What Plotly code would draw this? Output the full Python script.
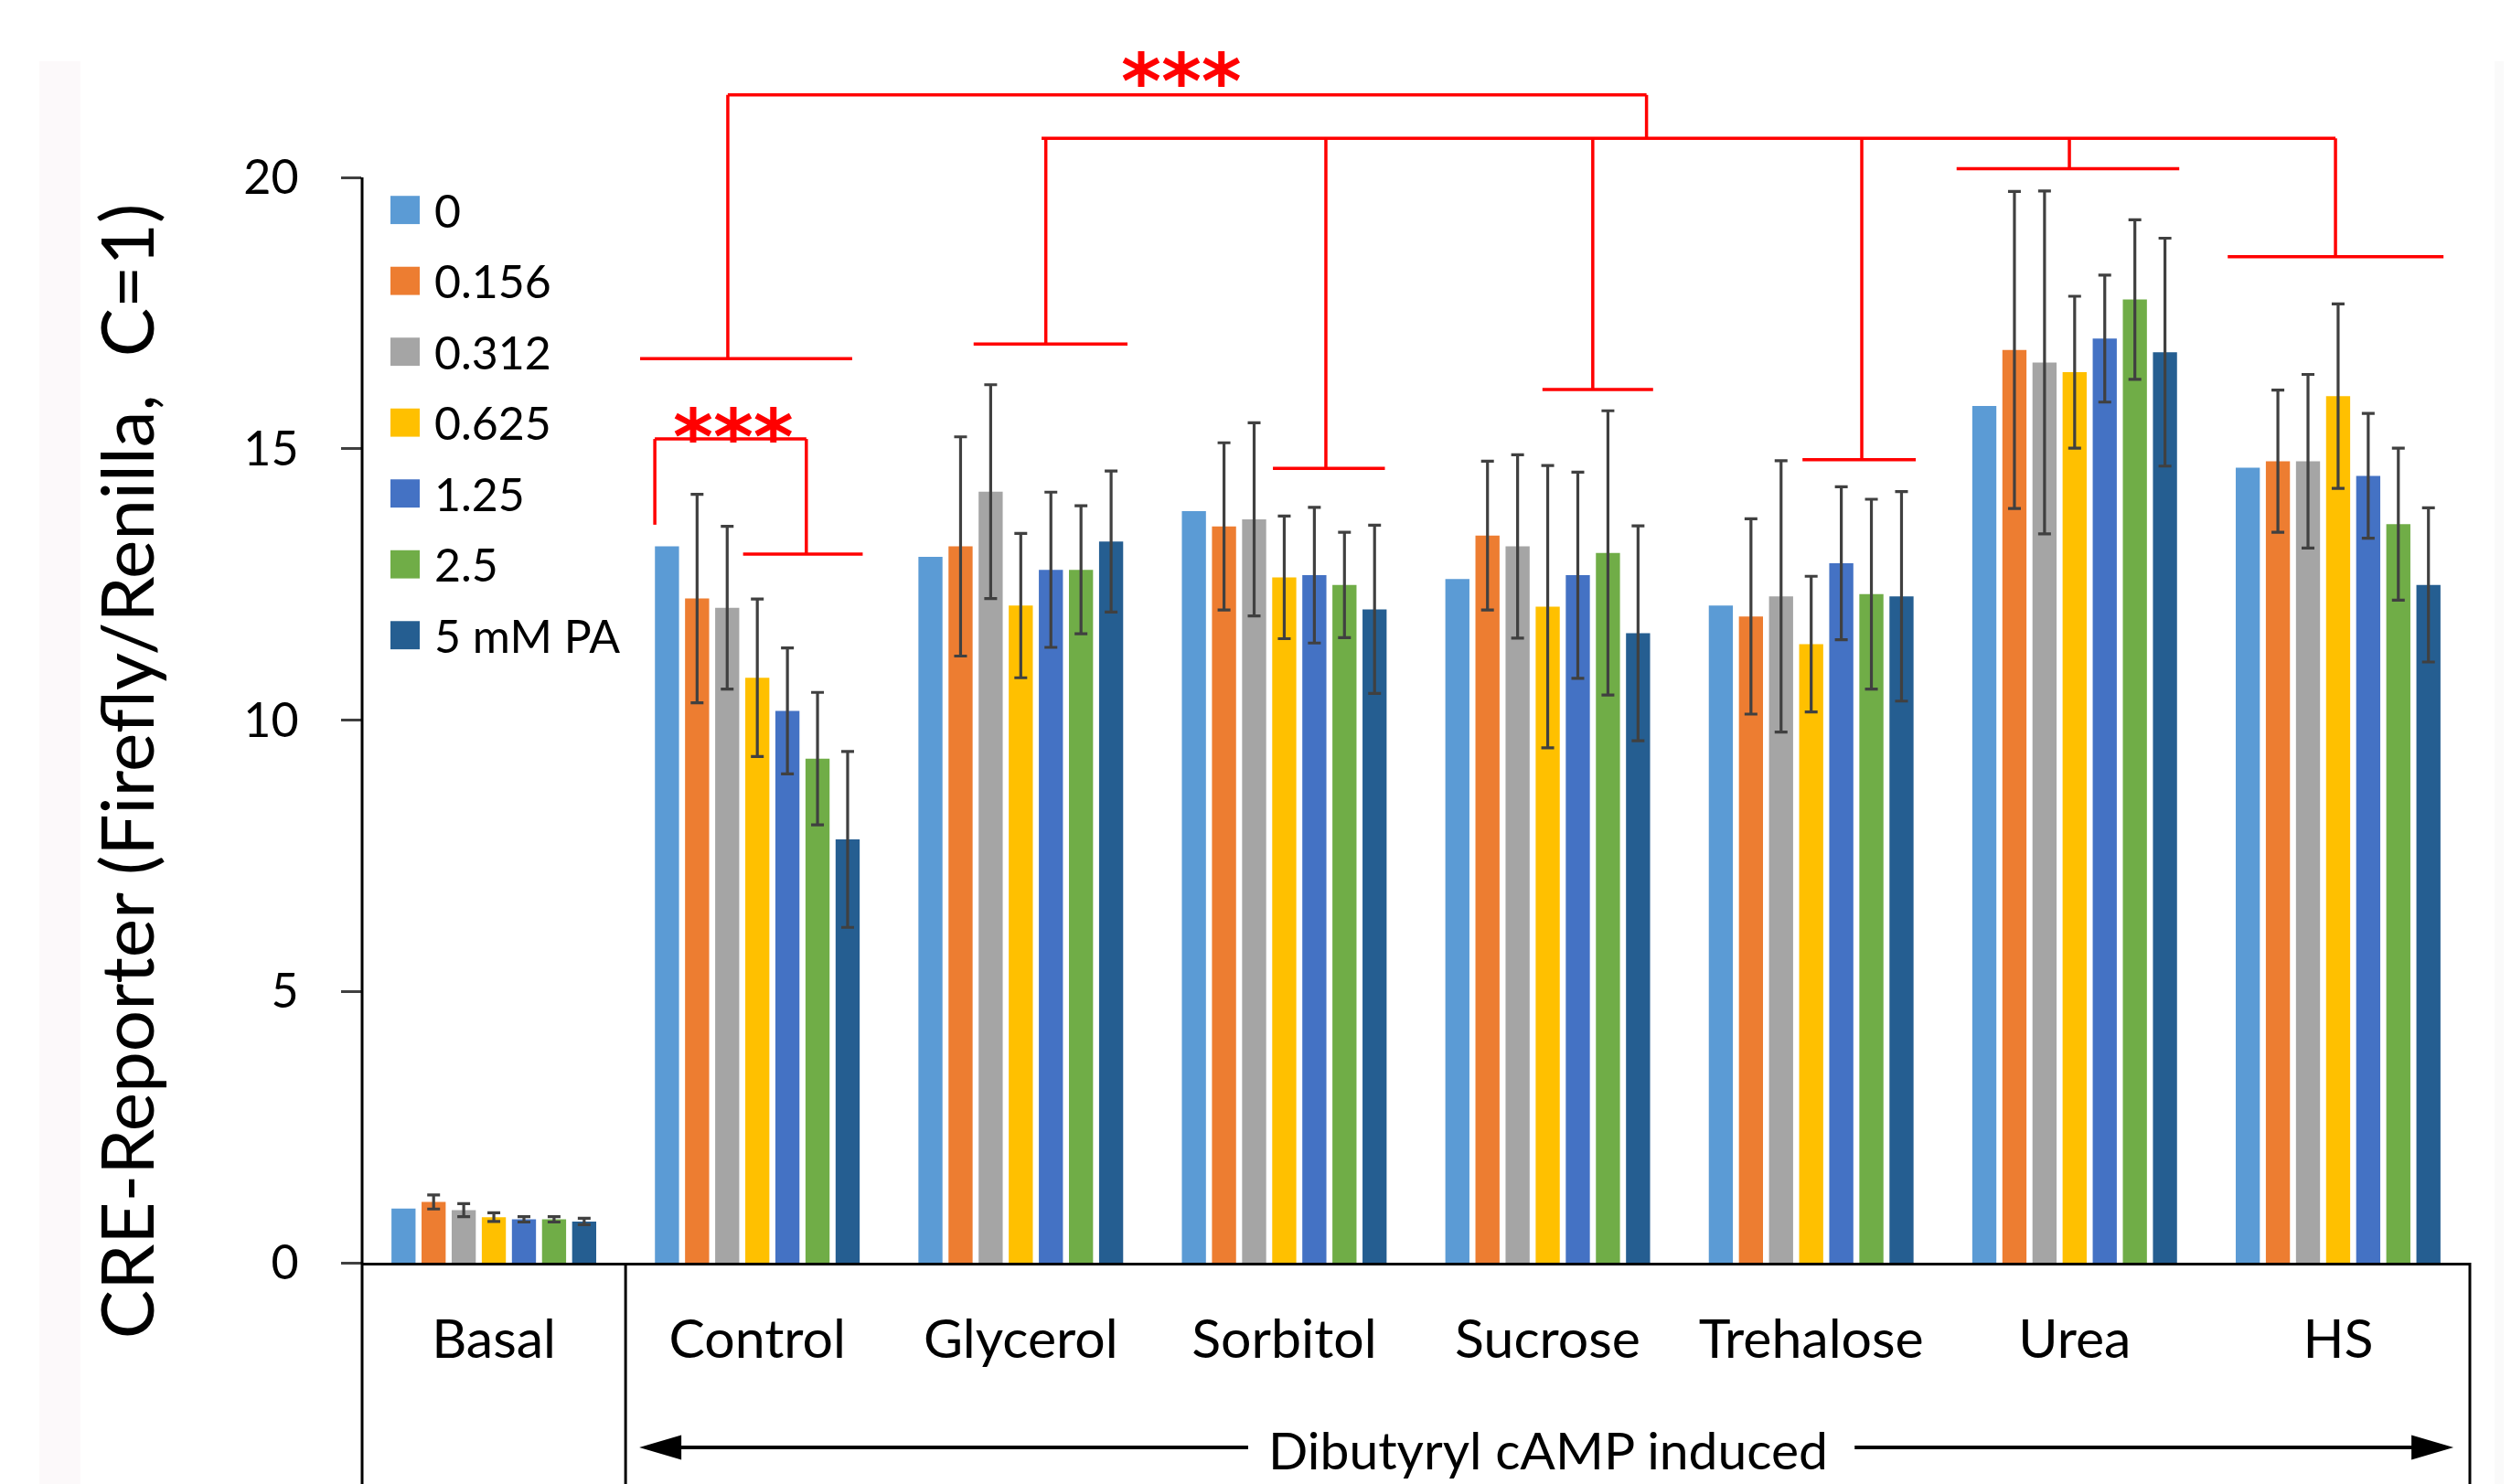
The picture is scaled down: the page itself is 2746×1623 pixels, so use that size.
import plotly.graph_objects as go

# ---------------- data ----------------
groups = ["Basal", "Control", "Glycerol", "Sorbitol", "Sucrose", "Trehalose", "Urea", "HS"]
series_names = ["0", "0.156", "0.312", "0.625", "1.25", "2.5", "5 mM PA"]
colors = ["#5B9BD5", "#ED7D31", "#A5A5A5", "#FFC000", "#4472C4", "#70AD47", "#255E91"]

v_0 = [1.00, 13.20, 13.01, 13.85, 12.60, 12.11, 15.79, 14.65]
v_0156 = [1.12, 12.24, 13.20, 13.57, 13.40, 11.91, 16.82, 14.77]
v_0312 = [0.97, 12.07, 14.21, 13.70, 13.20, 12.28, 16.59, 14.77]
v_0625 = [0.84, 10.78, 12.11, 12.63, 12.09, 11.40, 16.41, 15.97]
v_125 = [0.80, 10.17, 12.77, 12.67, 12.67, 12.89, 17.03, 14.50]
v_25 = [0.80, 9.29, 12.77, 12.49, 13.08, 12.32, 17.75, 13.61]
v_5 = [0.76, 7.80, 13.29, 12.04, 11.60, 12.28, 16.78, 12.49]

e_0156 = [0.13, 1.92, 2.02, 1.54, 1.37, 1.80, 2.92, 1.31]
e_0312 = [0.12, 1.50, 1.97, 1.78, 1.69, 2.50, 3.16, 1.60]
e_0625 = [0.08, 1.45, 1.33, 1.13, 2.60, 1.25, 1.40, 1.70]
e_125 = [0.05, 1.16, 1.43, 1.25, 1.90, 1.41, 1.17, 1.15]
e_25 = [0.05, 1.22, 1.18, 0.97, 2.62, 1.75, 1.47, 1.40]
e_5 = [0.06, 1.62, 1.30, 1.55, 1.98, 1.93, 2.10, 1.42]

y_ticks = [0, 5, 10, 15, 20]
y_title = "CRE-Reporter (Firefly/Renilla,\u00a0\u00a0C=1)"
induced_label = "Dibutyryl cAMP induced"
sig_label = "***"

values = [v_0, v_0156, v_0312, v_0625, v_125, v_25, v_5]
errors = [None, e_0156, e_0312, e_0625, e_125, e_25, e_5]

# significance brackets (x in category index units, y in data units)
brackets = [
    # Control: 0 vs higher doses
    (0.611, 13.60, 0.611, 15.18), (0.611, 15.18, 1.186, 15.18),
    (1.186, 15.18, 1.186, 13.06), (0.946, 13.06, 1.400, 13.06),
    # Control vs osmolytes
    (0.555, 16.66, 1.360, 16.66), (0.888, 16.66, 0.888, 21.52),
    (0.888, 21.52, 4.375, 21.52), (4.375, 21.52, 4.375, 20.72),
    (2.079, 20.72, 6.990, 20.72),
    (2.095, 20.72, 2.095, 16.93), (1.821, 16.93, 2.405, 16.93),
    (3.158, 20.72, 3.158, 14.64), (2.957, 14.64, 3.382, 14.64),
    (4.171, 20.72, 4.171, 16.09), (3.980, 16.09, 4.400, 16.09),
    (5.192, 20.72, 5.192, 14.80), (4.967, 14.80, 5.397, 14.80),
    (5.980, 20.72, 5.980, 20.16), (5.552, 20.16, 6.397, 20.16),
    (6.990, 20.72, 6.990, 18.54), (6.581, 18.54, 7.400, 18.54),
]
stars = [(0.908, 15.52), (2.610, 22.07)]

# ---------------- layout constants ----------------
W, H = 2746, 1623
OFF = 8                       # default body margin of the html page
AX_LEFT, PLOT_RIGHT = 396, 2701
Y0_PX, PX_PER_UNIT = 1381, 59.35
Y_TOP = 23.0
FONT = "Lato"
N = len(groups)

plot_w = PLOT_RIGHT - AX_LEFT
plot_h = Y_TOP * PX_PER_UNIT
top_px = Y0_PX - plot_h
MB = H - Y0_PX


def cat2paper(c):
    return (c + 0.5) / N


def px2px(px):
    return (px - AX_LEFT) / plot_w


def py2py(py):
    return (Y0_PX - py) / plot_h


y_bottom = py2py(H + 10)

fig = go.Figure()
for name, vals, err, col in zip(series_names, values, errors, colors):
    fig.add_trace(go.Bar(
        x=groups, y=vals, name=name,
        marker=dict(color=col, line=dict(width=0)),
        error_y=dict(type="data", array=err if err else [0] * N, visible=err is not None,
                     color="#404040", thickness=3.2, width=7),
        showlegend=False,
    ))

shapes = []
# y axis line (0..20) and table verticals
shapes.append(dict(type="line", xref="paper", yref="paper", x0=0, x1=0,
                   y0=y_bottom, y1=y_ticks[-1] / Y_TOP, line=dict(color="black", width=3)))
shapes.append(dict(type="line", xref="paper", yref="paper", x0=cat2paper(0.5), x1=cat2paper(0.5),
                   y0=y_bottom, y1=0, line=dict(color="black", width=3)))
shapes.append(dict(type="line", xref="paper", yref="paper", x0=1, x1=1,
                   y0=y_bottom, y1=0, line=dict(color="black", width=3)))

# arrows for "Dibutyryl cAMP induced"
ay = py2py(1583)
head_dx = 46 / plot_w
head_dy = 13.5 / plot_h
lt, rt = cat2paper(0.552), cat2paper(7.438)
shapes.append(dict(type="line", xref="paper", yref="paper", x0=lt + head_dx * 0.8, x1=cat2paper(2.863),
                   y0=ay, y1=ay, line=dict(color="black", width=4)))
shapes.append(dict(type="line", xref="paper", yref="paper", x0=cat2paper(5.165), x1=rt - head_dx * 0.8,
                   y0=ay, y1=ay, line=dict(color="black", width=4)))
shapes.append(dict(type="path", xref="paper", yref="paper",
                   path=f"M{lt},{ay} L{lt + head_dx},{ay + head_dy} L{lt + head_dx},{ay - head_dy} Z",
                   fillcolor="black", line=dict(width=0)))
shapes.append(dict(type="path", xref="paper", yref="paper",
                   path=f"M{rt},{ay} L{rt - head_dx},{ay + head_dy} L{rt - head_dx},{ay - head_dy} Z",
                   fillcolor="black", line=dict(width=0)))

# faint page strips
shapes.append(dict(type="rect", xref="paper", yref="paper", x0=px2px(43), x1=px2px(88),
                   y0=y_bottom, y1=py2py(67), fillcolor="#FCF9FA", line=dict(width=0), layer="below"))
shapes.append(dict(type="rect", xref="paper", yref="paper", x0=px2px(2728), x1=px2px(W + 10),
                   y0=y_bottom, y1=py2py(67), fillcolor="#FAFAFA", line=dict(width=0), layer="below"))

# brackets
for x0, y0, x1, y1 in brackets:
    shapes.append(dict(type="line", xref="x", yref="y", x0=x0, y0=y0, x1=x1, y1=y1,
                       line=dict(color="#FF0000", width=3.5)))

annotations = []
# legend (manual, large swatches)
leg_top, leg_step, leg_half = 19.40, 1.306, 0.26
for i, (name, col) in enumerate(zip(series_names, colors)):
    yc = leg_top - i * leg_step
    shapes.append(dict(type="rect", xref="paper", yref="y", x0=px2px(427), x1=px2px(459),
                       y0=yc - leg_half, y1=yc + leg_half, fillcolor=col, line=dict(width=0)))
    annotations.append(dict(text=name, xref="paper", yref="y", x=px2px(473), y=yc,
                            xanchor="left", yanchor="middle", showarrow=False,
                            font=dict(family=FONT, size=50, color="black")))

for sx, sy in stars:
    annotations.append(dict(text=sig_label, xref="x", yref="y", x=sx, y=sy - 0.30,
                            xanchor="center", yanchor="middle", showarrow=False,
                            font=dict(family="DejaVu Sans", size=84, color="#FF0000", weight="bold")))

annotations.append(dict(text=y_title, textangle=-90, xref="paper", yref="y",
                        x=px2px(137), y=9.06, xanchor="center", yanchor="middle",
                        showarrow=False, font=dict(family=FONT, size=80, color="black")))
annotations.append(dict(text=induced_label, xref="x", yref="paper", x=4.0, y=py2py(1585),
                        xanchor="center", yanchor="middle", showarrow=False,
                        font=dict(family=FONT, size=57, color="black")))

fig.update_layout(
    width=W - OFF, height=H - OFF,
    margin=dict(l=AX_LEFT - OFF, r=W - PLOT_RIGHT, t=top_px - OFF, b=MB),
    paper_bgcolor="white", plot_bgcolor="white",
    barmode="group", bargap=0.2, bargroupgap=0.2,
    showlegend=False,
    shapes=shapes, annotations=annotations,
    xaxis=dict(type="category", range=[-0.5, N - 0.5], showgrid=False, zeroline=False,
               showline=True, linecolor="black", linewidth=3, ticks="",
               tickfont=dict(family=FONT, size=59, color="black"), ticklabelstandoff=30),
    yaxis=dict(range=[0, Y_TOP], tickvals=y_ticks, showgrid=False, zeroline=False, showline=False,
               ticks="outside", ticklen=22, tickwidth=3, tickcolor="#404040",
               tickfont=dict(family=FONT, size=52, color="black"), ticklabelstandoff=36),
)

fig.write_html("out.html")
